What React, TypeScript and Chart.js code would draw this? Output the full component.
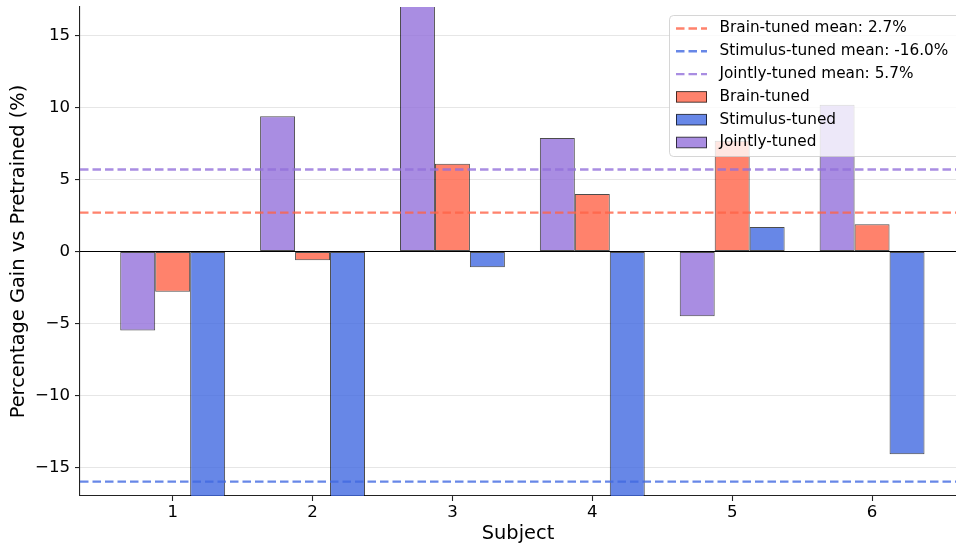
import React, { useEffect, useRef } from 'react';
import { Chart, registerables } from 'chart.js';

Chart.register(...registerables);

// ---- Data ----
const subjects = [1, 2, 3, 4, 5, 6];
const jointlyTuned = [-5.5, 9.4, 17.5, 7.9, -4.5, 10.2];
const brainTuned = [-2.8, -0.6, 6.1, 4.0, 7.7, 1.9];
const stimulusTuned = [-25.0, -30.0, -1.1, -27.5, 1.7, -14.1];
const brainMean = 2.7;
const stimulusMean = -16.0;
const jointlyMean = 5.7;
const yMin = -17;
const yMax = 17;
const xMin = 0.3375;
const xMax = 6.6;

const FONT = "'DejaVu Sans', sans-serif";
const BRAIN = [255, 99, 71];
const STIM = [65, 105, 225];
const JOINT = [147, 112, 219];
const rgba = (c: number[], a: number) => `rgba(${c[0]},${c[1]},${c[2]},${a})`;

const meanLines = [
  { label: `Brain-tuned mean: ${brainMean.toFixed(1)}%`, value: brainMean, color: BRAIN },
  { label: `Stimulus-tuned mean: ${stimulusMean.toFixed(1)}%`, value: stimulusMean, color: STIM },
  { label: `Jointly-tuned mean: ${jointlyMean.toFixed(1)}%`, value: jointlyMean, color: JOINT },
];
const barLegend = [
  { label: 'Brain-tuned', color: BRAIN },
  { label: 'Stimulus-tuned', color: STIM },
  { label: 'Jointly-tuned', color: JOINT },
];

const DASH = [8.5, 4];
const MEAN_LW = 2.4;
const EDGE = 'rgba(0,0,0,0.7)';

const overlayPlugin = {
  id: 'overlay',
  afterDatasetsDraw(chart: any) {
    const { ctx, chartArea: a, scales } = chart;
    const y = scales.y;
    ctx.save();
    ctx.beginPath();
    ctx.rect(a.left, a.top, a.right - a.left, a.bottom - a.top);
    ctx.clip();
    const y0 = y.getPixelForValue(0);
    ctx.strokeStyle = '#000';
    ctx.lineWidth = 1.1;
    ctx.setLineDash([]);
    ctx.beginPath();
    ctx.moveTo(a.left, y0);
    ctx.lineTo(a.right, y0);
    ctx.stroke();
    for (const m of meanLines) {
      const py = y.getPixelForValue(m.value);
      ctx.strokeStyle = rgba(m.color, 0.8);
      ctx.lineWidth = MEAN_LW;
      ctx.setLineDash(DASH);
      ctx.beginPath();
      ctx.moveTo(a.left, py);
      ctx.lineTo(a.right, py);
      ctx.stroke();
    }
    ctx.restore();
  },
  afterDraw(chart: any) {
    const { ctx } = chart;
    const left = 669.5;
    const top = 15.5;
    const width = 300;
    const height = 141;
    ctx.save();
    ctx.setLineDash([]);
    ctx.beginPath();
    ctx.roundRect(left, top, width, height, 4);
    ctx.fillStyle = 'rgba(255,255,255,0.8)';
    ctx.fill();
    ctx.strokeStyle = 'rgba(204,204,204,0.8)';
    ctx.lineWidth = 1;
    ctx.stroke();

    const rowStart = 28.5;
    const rowStep = 22.8;
    const hx0 = 676;
    const hx1 = 707;
    const tx = 719.5;
    ctx.font = `15.3px ${FONT}`;
    ctx.textAlign = 'left';
    ctx.textBaseline = 'middle';
    let row = 0;
    for (const m of meanLines) {
      const cy = rowStart + row * rowStep;
      ctx.strokeStyle = rgba(m.color, 0.8);
      ctx.lineWidth = MEAN_LW;
      ctx.setLineDash(DASH);
      ctx.beginPath();
      ctx.moveTo(hx0, cy);
      ctx.lineTo(hx1, cy);
      ctx.stroke();
      ctx.setLineDash([]);
      ctx.fillStyle = '#000';
      ctx.fillText(m.label, tx, cy);
      row++;
    }
    for (const b of barLegend) {
      const cy = rowStart + row * rowStep;
      ctx.fillStyle = rgba(b.color, 0.8);
      ctx.fillRect(hx0, cy - 5.3, hx1 - hx0, 10.6);
      ctx.strokeStyle = EDGE;
      ctx.lineWidth = 1;
      ctx.setLineDash([]);
      ctx.strokeRect(hx0 + 0.5, cy - 5.3, hx1 - hx0 - 1, 10.6);
      ctx.fillStyle = '#000';
      ctx.fillText(b.label, tx, cy);
      row++;
    }
    ctx.restore();
  },
};

export default function App() {
  const canvasRef = useRef<HTMLCanvasElement | null>(null);

  useEffect(() => {
    const canvas = canvasRef.current;
    if (!canvas) return;
    const mk = (label: string, values: number[], color: number[]) => ({
      type: 'bar' as const,
      label,
      data: subjects.map((s, i) => ({ x: s, y: values[i] })),
      backgroundColor: rgba(color, 0.8),
      borderColor: EDGE,
      borderWidth: 1,
      borderSkipped: false,
      categoryPercentage: 0.75,
      barPercentage: 1.0,
      clip: 0,
    });
    const chart = new Chart(canvas, {
      type: 'bar',
      data: {
        datasets: [
          mk('Jointly-tuned', jointlyTuned, JOINT),
          mk('Brain-tuned', brainTuned, BRAIN),
          mk('Stimulus-tuned', stimulusTuned, STIM),
        ],
      },
      options: {
        responsive: false,
        animation: false,
        devicePixelRatio: 1,
        layout: { padding: { top: 7, left: 0, right: 0, bottom: 0 } },
        plugins: {
          legend: { display: false },
          tooltip: { enabled: false },
        },
        scales: {
          x: {
            type: 'linear',
            min: xMin,
            max: xMax,
            offset: false,
            afterFit: (s: any) => {
              s.height = 51;
              s.paddingLeft = 0;
              s.paddingRight = 0;
            },
            grid: {
              offset: false,
              drawOnChartArea: false,
              drawTicks: true,
              tickLength: 5,
              tickColor: '#222',
              tickWidth: 1.1,
            },
            border: { display: true, color: '#222', width: 1.1 },
            ticks: {
              stepSize: 1,
              includeBounds: false,
              padding: 2,
              color: '#000',
              font: { family: FONT, size: 16.6 },
              maxRotation: 0,
              autoSkip: false,
            },
            title: {
              display: true,
              text: 'Subject',
              color: '#000',
              font: { family: FONT, size: 19.4 },
              padding: { top: 0, bottom: 1.5 },
            },
          },
          y: {
            type: 'linear',
            min: yMin,
            max: yMax,
            afterFit: (s: any) => {
              s.width = 80;
              s.paddingTop = 0;
              s.paddingBottom = 0;
            },
            grid: {
              color: '#e6e6e6',
              lineWidth: 1.1,
              drawTicks: true,
              tickLength: 5,
              tickColor: '#222',
              tickWidth: 1.1,
            },
            border: { display: true, color: '#222', width: 1.1 },
            ticks: {
              stepSize: 5,
              includeBounds: false,
              padding: 5,
              color: '#000',
              font: { family: FONT, size: 16.6 },
              callback: (v: any) => String(v).replace('-', '\u2212'),
            },
            title: {
              display: true,
              text: 'Percentage Gain vs Pretrained (%)',
              color: '#000',
              font: { family: FONT, size: 19.4 },
              padding: { top: 7.6, bottom: 0 },
            },
          },
        },
      } as any,
      plugins: [overlayPlugin],
    });
    return () => chart.destroy();
  }, []);

  return (
    <div style={{ position: 'absolute', left: 0, top: 0, width: 956, height: 547, background: '#fff' }}>
      <canvas ref={canvasRef} width={956} height={547} style={{ display: 'block', width: 956, height: 547 }} />
    </div>
  );
}
